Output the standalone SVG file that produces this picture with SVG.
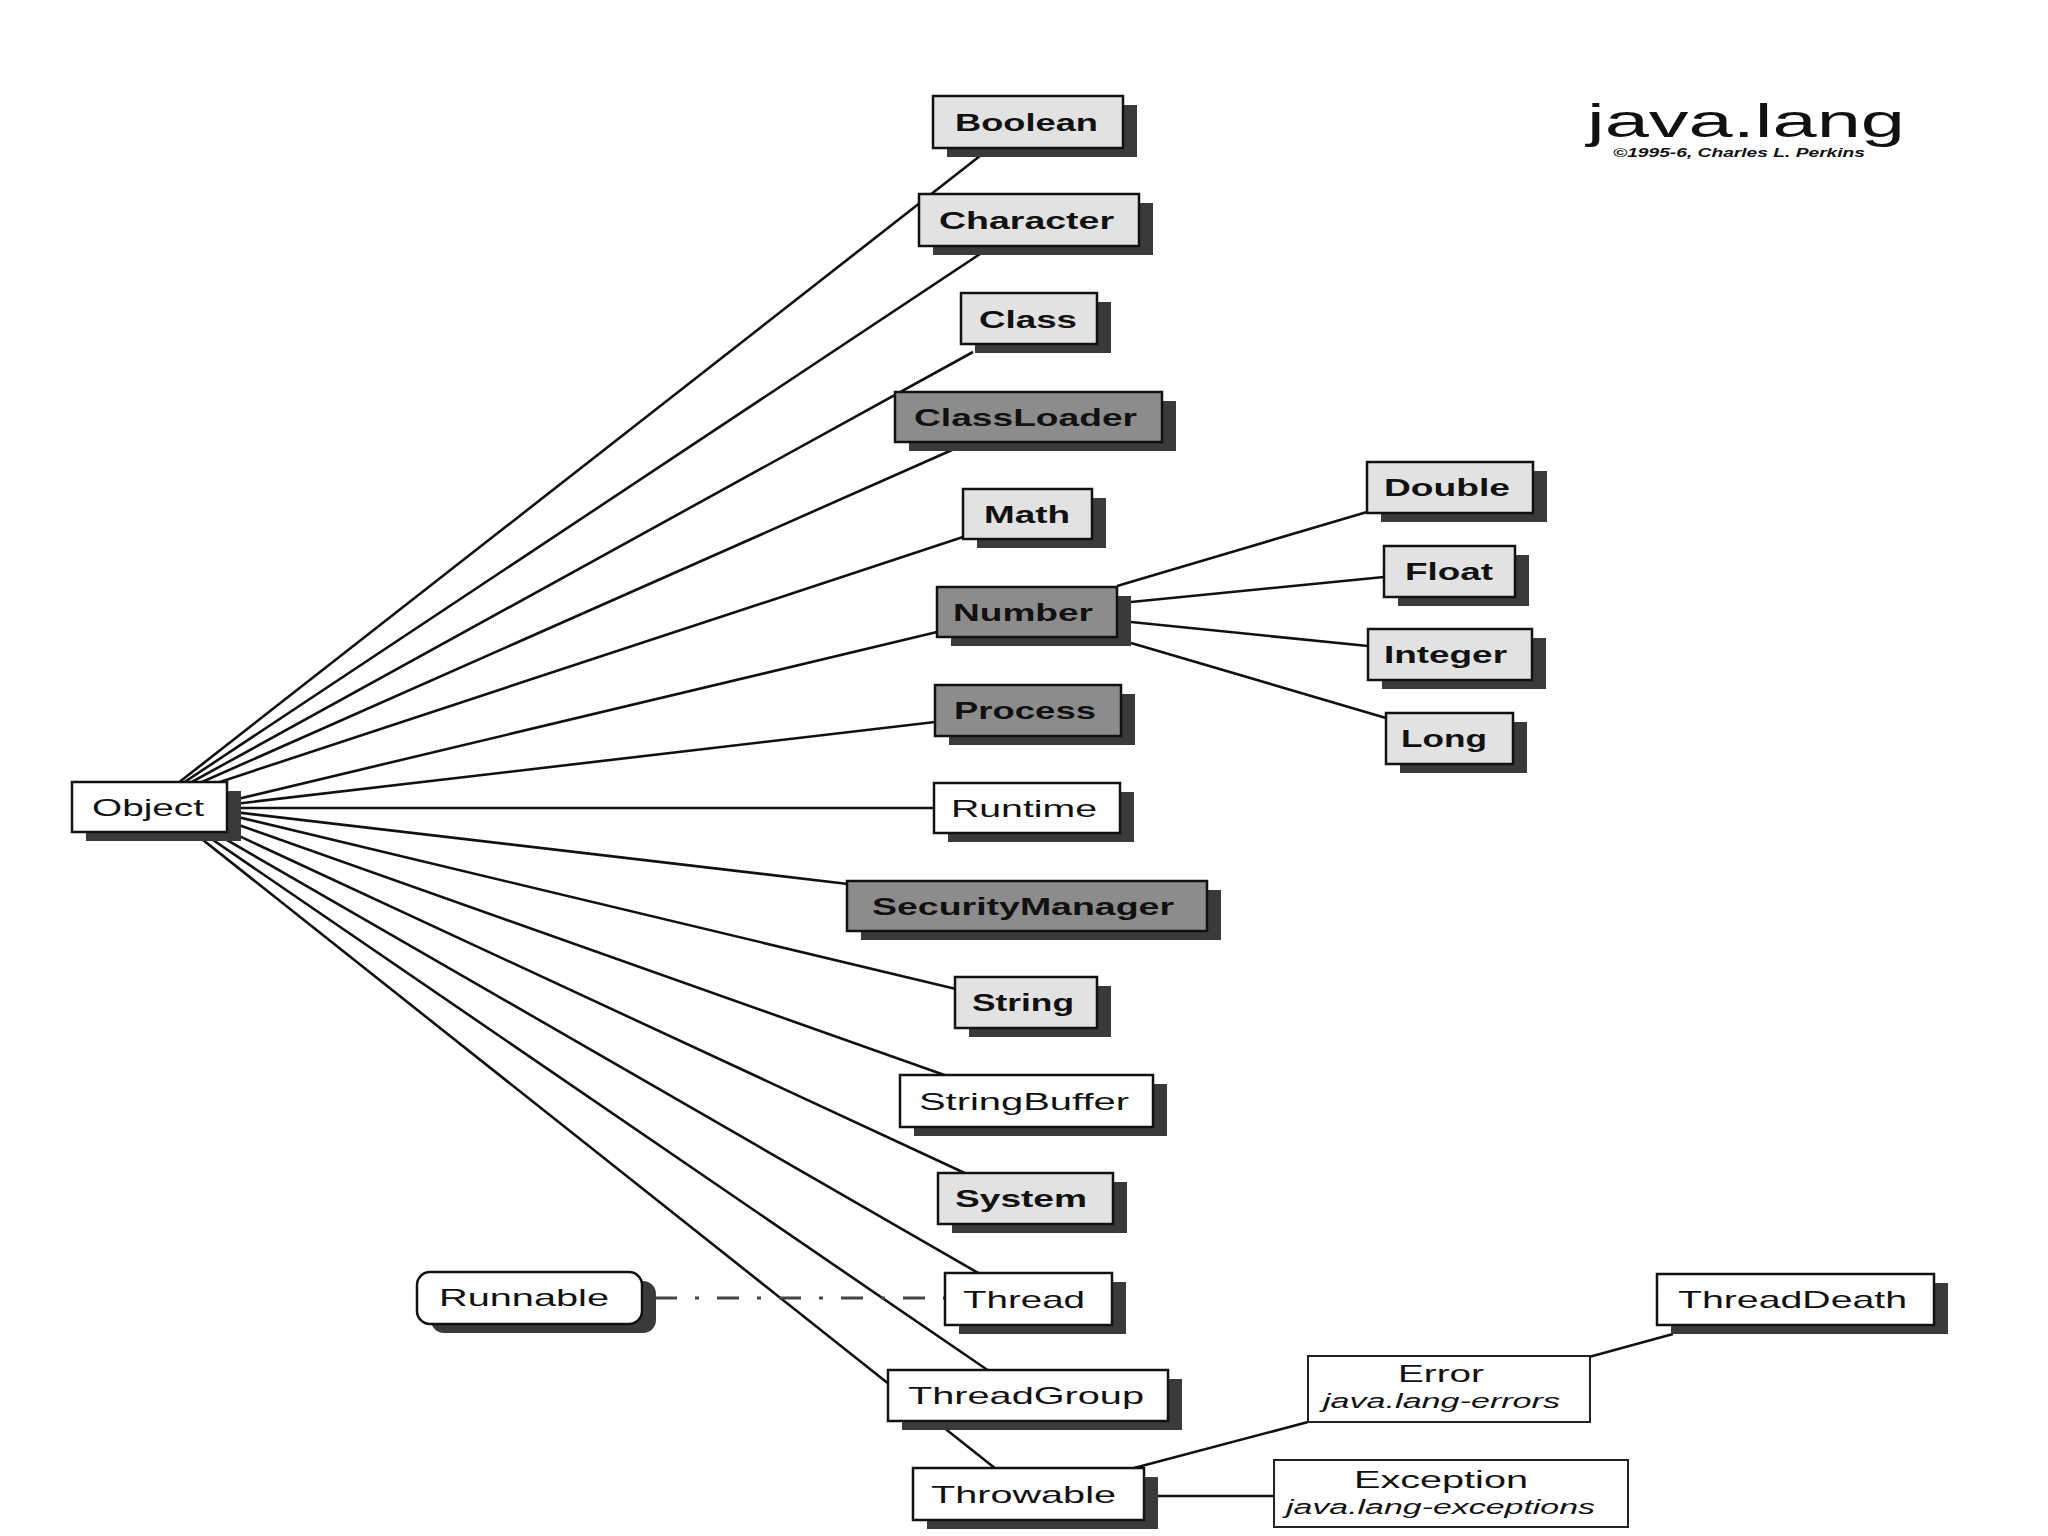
<svg xmlns="http://www.w3.org/2000/svg" width="2048" height="1536" viewBox="0 0 2048 1536">
<style>
.bg{fill:#ffffff}
.sh{fill:#3a3a3a}
.lt{fill:#e2e2e2;stroke:#111;stroke-width:2.5}
.dk{fill:#8c8c8c;stroke:#111;stroke-width:2.5}
.wh{fill:#ffffff;stroke:#111;stroke-width:2.5}
.thin{fill:#ffffff;stroke:#222;stroke-width:2}
.t{font-family:"Liberation Sans",Arial,sans-serif;font-size:24px;fill:#111;text-anchor:start}
.tb{font-weight:bold}
.ti{font-style:italic;font-size:20px}
.conn line{stroke:#111;stroke-width:2.6;fill:none}
.dash{stroke:#444;stroke-width:3;stroke-dasharray:22 18 4 18;fill:none}
</style>
<rect class="bg" x="0" y="0" width="2048" height="1536"/>

<g id="title">
<text class="t" x="1587" y="137" style="font-size:46px" textLength="318" lengthAdjust="spacingAndGlyphs">java.lang</text>
<text class="t tb" x="1613" y="157" style="font-size:12px;font-style:italic" textLength="252" lengthAdjust="spacingAndGlyphs">©1995-6, Charles L. Perkins</text>
</g>

<g id="connectors" class="conn">
<line x1="150" y1="805" x2="985" y2="152"/>
<line x1="150" y1="805" x2="980" y2="254"/>
<line x1="150" y1="805" x2="973" y2="352"/>
<line x1="150" y1="805" x2="952" y2="450"/>
<line x1="150" y1="805" x2="963" y2="537"/>
<line x1="200" y1="808" x2="937" y2="632"/>
<line x1="200" y1="808" x2="935" y2="722"/>
<line x1="200" y1="808" x2="934" y2="808"/>
<line x1="200" y1="808" x2="848" y2="884"/>
<line x1="200" y1="808" x2="956" y2="989"/>
<line x1="140" y1="790" x2="950" y2="1077"/>
<line x1="140" y1="790" x2="969" y2="1175"/>
<line x1="140" y1="790" x2="980" y2="1274"/>
<line x1="140" y1="790" x2="989" y2="1371"/>
<line x1="140" y1="790" x2="996" y2="1469"/>
<line x1="1117" y1="586" x2="1367" y2="512"/>
<line x1="1131" y1="602" x2="1384" y2="577"/>
<line x1="1131" y1="622" x2="1368" y2="646"/>
<line x1="1131" y1="643" x2="1386" y2="718"/>
<line x1="1134" y1="1468" x2="1308" y2="1422"/>
<line x1="1158" y1="1496" x2="1274" y2="1496"/>
<line x1="1673" y1="1334" x2="1589" y2="1357"/>
<path class="dash" d="M655,1298 H945"/>
</g>

<g id="Object"><rect class="sh" x="86" y="791" width="155" height="50"/><rect class="wh" x="72" y="782" width="155" height="50"/><text class="t" x="92" y="816" textLength="112" lengthAdjust="spacingAndGlyphs">Object</text></g>

<g id="Boolean"><rect class="sh" x="947" y="105" width="190" height="52"/><rect class="lt" x="933" y="96" width="190" height="52"/><text class="t tb" x="955" y="131" textLength="143" lengthAdjust="spacingAndGlyphs">Boolean</text></g>
<g id="Character"><rect class="sh" x="933" y="203" width="220" height="52"/><rect class="lt" x="919" y="194" width="220" height="52"/><text class="t tb" x="939" y="229" textLength="175" lengthAdjust="spacingAndGlyphs">Character</text></g>
<g id="Class"><rect class="sh" x="975" y="302" width="136" height="51"/><rect class="lt" x="961" y="293" width="136" height="51"/><text class="t tb" x="979" y="328" textLength="98" lengthAdjust="spacingAndGlyphs">Class</text></g>
<g id="ClassLoader"><rect class="sh" x="909" y="401" width="267" height="50"/><rect class="dk" x="895" y="392" width="267" height="50"/><text class="t tb" x="914" y="426" textLength="223" lengthAdjust="spacingAndGlyphs">ClassLoader</text></g>
<g id="Math"><rect class="sh" x="977" y="498" width="129" height="50"/><rect class="lt" x="963" y="489" width="129" height="50"/><text class="t tb" x="984" y="523" textLength="86" lengthAdjust="spacingAndGlyphs">Math</text></g>
<g id="Number"><rect class="sh" x="951" y="596" width="180" height="50"/><rect class="dk" x="937" y="587" width="180" height="50"/><text class="t tb" x="953" y="621" textLength="140" lengthAdjust="spacingAndGlyphs">Number</text></g>
<g id="Process"><rect class="sh" x="949" y="694" width="186" height="51"/><rect class="dk" x="935" y="685" width="186" height="51"/><text class="t tb" x="954" y="719" textLength="142" lengthAdjust="spacingAndGlyphs">Process</text></g>
<g id="Runtime"><rect class="sh" x="948" y="792" width="186" height="50"/><rect class="wh" x="934" y="783" width="186" height="50"/><text class="t" x="951" y="817" textLength="146" lengthAdjust="spacingAndGlyphs">Runtime</text></g>
<g id="SecurityManager"><rect class="sh" x="861" y="890" width="360" height="50"/><rect class="dk" x="847" y="881" width="360" height="50"/><text class="t tb" x="872" y="915" textLength="302" lengthAdjust="spacingAndGlyphs">SecurityManager</text></g>
<g id="String"><rect class="sh" x="969" y="986" width="142" height="51"/><rect class="lt" x="955" y="977" width="142" height="51"/><text class="t tb" x="972" y="1011" textLength="102" lengthAdjust="spacingAndGlyphs">String</text></g>
<g id="StringBuffer"><rect class="sh" x="914" y="1084" width="253" height="52"/><rect class="wh" x="900" y="1075" width="253" height="52"/><text class="t" x="919" y="1110" textLength="210" lengthAdjust="spacingAndGlyphs">StringBuffer</text></g>
<g id="System"><rect class="sh" x="952" y="1182" width="175" height="51"/><rect class="lt" x="938" y="1173" width="175" height="51"/><text class="t tb" x="955" y="1207" textLength="132" lengthAdjust="spacingAndGlyphs">System</text></g>
<g id="Thread"><rect class="sh" x="959" y="1282" width="167" height="52"/><rect class="wh" x="945" y="1273" width="167" height="52"/><text class="t" x="963" y="1308" textLength="122" lengthAdjust="spacingAndGlyphs">Thread</text></g>
<g id="ThreadGroup"><rect class="sh" x="902" y="1379" width="280" height="51"/><rect class="wh" x="888" y="1370" width="280" height="51"/><text class="t" x="908" y="1404" textLength="236" lengthAdjust="spacingAndGlyphs">ThreadGroup</text></g>
<g id="Throwable"><rect class="sh" x="927" y="1477" width="231" height="52"/><rect class="wh" x="913" y="1468" width="231" height="52"/><text class="t" x="931" y="1503" textLength="185" lengthAdjust="spacingAndGlyphs">Throwable</text></g>
<g id="Runnable"><rect class="sh" x="431" y="1281" width="225" height="52" rx="13"/><rect class="wh" x="417" y="1272" width="225" height="52" rx="13"/><text class="t" x="439" y="1306" textLength="170" lengthAdjust="spacingAndGlyphs">Runnable</text></g>

<g id="Double"><rect class="sh" x="1381" y="471" width="166" height="51"/><rect class="lt" x="1367" y="462" width="166" height="51"/><text class="t tb" x="1384" y="496" textLength="126" lengthAdjust="spacingAndGlyphs">Double</text></g>
<g id="Float"><rect class="sh" x="1398" y="555" width="131" height="51"/><rect class="lt" x="1384" y="546" width="131" height="51"/><text class="t tb" x="1405" y="580" textLength="88" lengthAdjust="spacingAndGlyphs">Float</text></g>
<g id="Integer"><rect class="sh" x="1382" y="638" width="164" height="51"/><rect class="lt" x="1368" y="629" width="164" height="51"/><text class="t tb" x="1384" y="663" textLength="123" lengthAdjust="spacingAndGlyphs">Integer</text></g>
<g id="Long"><rect class="sh" x="1400" y="722" width="127" height="51"/><rect class="lt" x="1386" y="713" width="127" height="51"/><text class="t tb" x="1401" y="747" textLength="86" lengthAdjust="spacingAndGlyphs">Long</text></g>

<g id="ThreadDeath"><rect class="sh" x="1671" y="1283" width="277" height="51"/><rect class="wh" x="1657" y="1274" width="277" height="51"/><text class="t" x="1678" y="1308" textLength="229" lengthAdjust="spacingAndGlyphs">ThreadDeath</text></g>
<g id="Error"><rect class="thin" x="1308" y="1356" width="282" height="66"/><text class="t" x="1398" y="1382" style="font-size:23px" textLength="86" lengthAdjust="spacingAndGlyphs">Error</text><text class="t ti" x="1323" y="1408" textLength="237" lengthAdjust="spacingAndGlyphs">java.lang-errors</text></g>
<g id="Exception"><rect class="thin" x="1274" y="1460" width="354" height="67"/><text class="t" x="1354" y="1488" style="font-size:23px" textLength="174" lengthAdjust="spacingAndGlyphs">Exception</text><text class="t ti" x="1286" y="1514" textLength="309" lengthAdjust="spacingAndGlyphs">java.lang-exceptions</text></g>
</svg>
